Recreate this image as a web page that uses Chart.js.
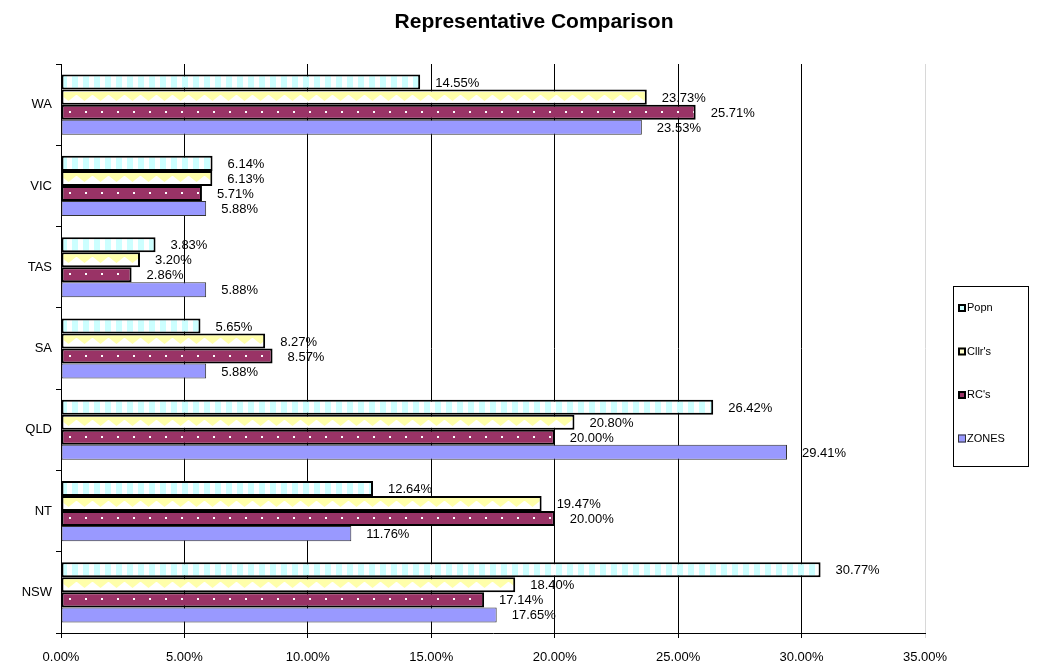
<!DOCTYPE html>
<html>
<head>
<meta charset="utf-8">
<title>Representative Comparison</title>
<script src="https://cdn.jsdelivr.net/npm/chart.js@4.4.0/dist/chart.umd.min.js"></script>
<style>
  html, body { margin: 0; padding: 0; background: #fff; }
</style>
</head>
<body>
<canvas id="mychart" width="1043" height="670"></canvas>
<script>
const states = ['WA', 'VIC', 'TAS', 'SA', 'QLD', 'NT', 'NSW'];
const popn   = [14.55, 6.14, 3.83, 5.65, 26.42, 12.64, 30.77];
const cllrs  = [23.73, 6.13, 3.20, 8.27, 20.80, 19.47, 18.40];
const rcs    = [25.71, 5.71, 2.86, 8.57, 20.00, 20.00, 17.14];
const zones  = [23.53, 5.88, 5.88, 5.88, 29.41, 11.76, 17.65];
const xTicks = [0, 5, 10, 15, 20, 25, 30, 35];

const CAT_PCT = 0.74;
const FONT = '"Liberation Sans", Arial, sans-serif';
Chart.defaults.font.family = FONT;
Chart.defaults.color = '#000';

// small repeating tiles for the hatched fills
function tile(w, h, paint) {
    const c = document.createElement('canvas');
    c.width = w;
    c.height = h;
    paint(c.getContext('2d'));
    return c;
}

const tiles = {
    stripes: tile(11, 15, g => {
        g.fillStyle = '#fff';
        g.fillRect(0, 0, 11, 15);
        g.fillStyle = '#ccffff';
        g.fillRect(0, 0, 6, 15);
    }),
    zigzag: tile(16, 15, g => {
        g.fillStyle = '#fff';
        g.fillRect(0, 0, 16, 15);
        g.fillStyle = '#ffffaa';
        g.fillRect(0, 2, 16, 3);
        g.beginPath();
        g.moveTo(0, 5);
        g.lineTo(15, 5);
        g.lineTo(7.5, 11);
        g.closePath();
        g.fill();
    }),
    dots: tile(16, 15, g => {
        g.fillStyle = '#993366';
        g.fillRect(0, 0, 16, 15);
        g.fillStyle = '#fff';
        g.fillRect(8, 6, 2, 2);
    })
};

const plain = { stripes: '#ccffff', zigzag: '#ffffcc', dots: '#993366' };

// pattern anchored to the top of each bar so the hatch sits the same way in every bar
function patterned(kind, k) {
    return (c) => {
        const chart = c.chart;
        const area = chart.chartArea;
        const y = chart.scales && chart.scales.y;
        if (c.type !== 'data' || !area || !y) return plain[kind];
        const group = (y.height / states.length) * CAT_PCT;
        const top = y.getPixelForValue(c.dataIndex) - group / 2 + k * group / 4;
        const p = chart.ctx.createPattern(tiles[kind], 'repeat');
        p.setTransform(new DOMMatrix().translate(Math.round(area.left), Math.round(top)));
        return p;
    };
}

const series = [
    { label: 'Popn',   data: popn,  kind: 'stripes', border: '#000', bw: 2 },
    { label: "Cllr's", data: cllrs, kind: 'zigzag',  border: '#000', bw: 2 },
    { label: "RC's",   data: rcs,   kind: 'dots',    border: '#000', bw: 2 },
    { label: 'ZONES',  data: zones, kind: null,      border: '#333', bw: 1 }
];

const data = {
    labels: states,
    datasets: series.map((s, k) => ({
        label: s.label,
        data: s.data,
        backgroundColor: s.kind ? patterned(s.kind, k) : '#9999ff',
        swatch: s.kind ? plain[s.kind] : '#9999ff',
        borderColor: s.border,
        borderWidth: s.bw,
        borderSkipped: false,
        categoryPercentage: CAT_PCT,
        barPercentage: 1
    }))
};

// value text at the end of every bar
const valueLabels = {
    id: 'valueLabels',
    afterDatasetsDraw(chart) {
        const ctx = chart.ctx;
        ctx.save();
        ctx.font = '13px ' + FONT;
        ctx.fillStyle = '#000';
        ctx.textAlign = 'left';
        ctx.textBaseline = 'middle';
        chart.data.datasets.forEach((ds, i) => {
            chart.getDatasetMeta(i).data.forEach((bar, j) => {
                ctx.fillText(ds.data[j].toFixed(2) + '%', bar.x + 15, bar.y + 1);
            });
        });
        ctx.restore();
    }
};

// boxed legend on the right
const boxLegend = {
    id: 'boxLegend',
    afterDraw(chart) {
        const ctx = chart.ctx;
        const left = chart.chartArea.right + 28;
        const top = 286, w = 75, h = 180;
        ctx.save();
        ctx.strokeStyle = '#000';
        ctx.lineWidth = 1;
        ctx.strokeRect(left + 0.5, top + 0.5, w, h);
        ctx.font = '11px ' + FONT;
        ctx.textBaseline = 'middle';
        ctx.textAlign = 'left';
        chart.data.datasets.forEach((ds, i) => {
            const cy = top + 22 + i * 43.5;
            const sx = left + 5;
            ctx.fillStyle = ds.swatch;
            ctx.fillRect(sx, cy - 4, 8, 8);
            ctx.strokeStyle = ds.borderColor;
            ctx.lineWidth = ds.borderWidth;
            const inset = ds.borderWidth / 2;
            ctx.strokeRect(sx + inset, cy - 4 + inset, 8 - ds.borderWidth, 8 - ds.borderWidth);
            ctx.fillStyle = '#000';
            ctx.fillText(ds.label, left + 14, cy);
        });
        ctx.restore();
    }
};

new Chart(document.getElementById('mychart'), {
    type: 'bar',
    data: data,
    options: {
        indexAxis: 'y',
        responsive: false,
        animation: false,
        events: [],
        // the negative right value only widens the title's box so it centres a little right of the page middle
        layout: { padding: { left: 0, right: -25, top: 0, bottom: 0 } },
        scales: {
            x: {
                min: 0,
                max: 35,
                afterBuildTicks: s => { s.ticks = xTicks.map(v => ({ value: v })); },
                afterFit: s => { s.paddingRight = 118; s.height = 37; },
                ticks: {
                    callback: v => v.toFixed(2) + '%',
                    font: { size: 13 },
                    padding: 12,
                    maxRotation: 0
                },
                grid: {
                    color: c => (c.tick && c.tick.value === 35 ? '#d8d8d8' : '#000'),
                    tickLength: 5
                },
                border: { color: '#000' }
            },
            y: {
                afterFit: s => { s.width = 61; },
                ticks: { font: { size: 13 }, padding: 4 },
                grid: { drawOnChartArea: false, tickLength: 5, color: '#000', offset: true },
                border: { color: '#000' }
            }
        },
        plugins: {
            legend: { display: false },
            tooltip: { enabled: false },
            title: {
                display: true,
                text: 'Representative Comparison',
                color: '#000',
                font: { size: 21, weight: 'bold' },
                padding: { top: 10, bottom: 28.8 }
            }
        }
    },
    plugins: [valueLabels, boxLegend]
});
</script>
</body>
</html>
